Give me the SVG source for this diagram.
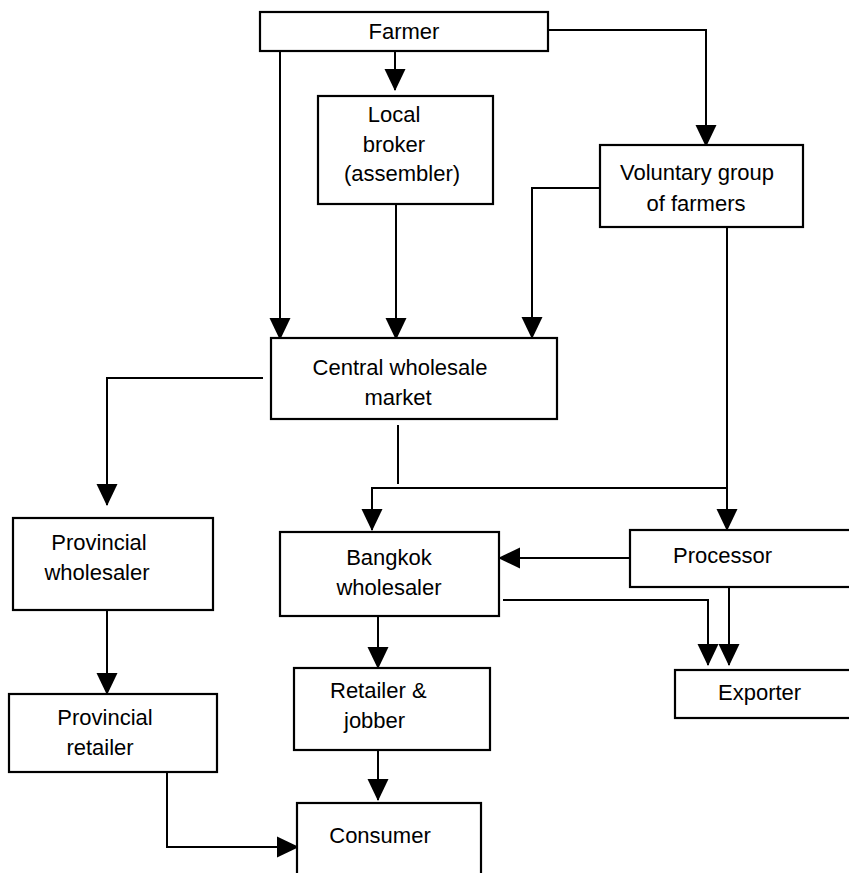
<svg xmlns="http://www.w3.org/2000/svg" width="849" height="873" viewBox="0 0 849 873">
<style>
  .box { fill: #ffffff; stroke: #000000; stroke-width: 2.2; }
  .lbl { font-family: "Liberation Sans", Arial, sans-serif; font-size: 22px; fill: #000000; text-anchor: middle; }
  .lft { text-anchor: start; }
  .con { fill: none; stroke: #000000; stroke-width: 2; }
  .arr { marker-end: url(#ah); }
</style>
<defs>
  <marker id="ah" markerUnits="userSpaceOnUse" markerWidth="22" markerHeight="22" refX="21" refY="10.5" orient="auto" viewBox="0 0 22 21">
    <path d="M0,0 L22,10.5 L0,21 Z" fill="#000000"/>
  </marker>
</defs>
<rect x="0" y="0" width="849" height="873" fill="#ffffff"/>

<g id="connectors">
  <path class="con arr" d="M395,51 L395,90"/>
  <path class="con arr" d="M280,51 L280,339"/>
  <path class="con arr" d="M396,204 L396,339"/>
  <path class="con arr" d="M548,30 L706,30 L706,146"/>
  <path class="con arr" d="M609,188 L532,188 L532,338"/>
  <path class="con arr" d="M727,227 L727,530"/>
  <path class="con arr" d="M263,378 L107,378 L107,505"/>
  <path class="con" d="M398,425 L398,484"/>
  <path class="con arr" d="M727,488 L372,488 L372,530"/>
  <path class="con arr" d="M630,558 L499,558"/>
  <path class="con arr" d="M503,600 L708,600 L708,665"/>
  <path class="con arr" d="M729,587 L729,665"/>
  <path class="con arr" d="M107,610 L107,694"/>
  <path class="con arr" d="M378,616 L378,668"/>
  <path class="con arr" d="M378,750 L378,800"/>
  <path class="con arr" d="M167,772 L167,847 L298,847"/>
</g>

<g id="farmer">
  <rect class="box" x="260" y="12" width="288" height="39"/>
  <text class="lbl" x="404" y="39">Farmer</text>
</g>
<g id="local-broker">
  <rect class="box" x="318" y="96" width="175" height="108"/>
  <text class="lbl" x="394" y="122">Local</text>
  <text class="lbl" x="394" y="152">broker</text>
  <text class="lbl" x="402" y="181">(assembler)</text>
</g>
<g id="voluntary-group">
  <rect class="box" x="600" y="145" width="203" height="82"/>
  <text class="lbl" x="697" y="180">Voluntary group</text>
  <text class="lbl" x="696" y="211">of farmers</text>
</g>
<g id="central-wholesale-market">
  <rect class="box" x="271" y="338" width="286" height="81"/>
  <text class="lbl" x="400" y="375">Central wholesale</text>
  <text class="lbl" x="398" y="405">market</text>
</g>
<g id="provincial-wholesaler">
  <rect class="box" x="13" y="518" width="200" height="92"/>
  <text class="lbl" x="99" y="550">Provincial</text>
  <text class="lbl" x="97" y="580">wholesaler</text>
</g>
<g id="bangkok-wholesaler">
  <rect class="box" x="280" y="532" width="219" height="84"/>
  <text class="lbl" x="389" y="565">Bangkok</text>
  <text class="lbl" x="389" y="595">wholesaler</text>
</g>
<g id="processor">
  <rect class="box" x="630" y="530" width="225" height="57"/>
  <text class="lbl lft" x="673" y="563">Processor</text>
</g>
<g id="provincial-retailer">
  <rect class="box" x="9" y="694" width="208" height="78"/>
  <text class="lbl" x="105" y="725">Provincial</text>
  <text class="lbl" x="100" y="755">retailer</text>
</g>
<g id="retailer-jobber">
  <rect class="box" x="294" y="668" width="196" height="82"/>
  <text class="lbl lft" x="330" y="698">Retailer &amp;</text>
  <text class="lbl lft" x="344" y="728">jobber</text>
</g>
<g id="exporter">
  <rect class="box" x="675" y="670" width="180" height="48"/>
  <text class="lbl lft" x="718" y="700">Exporter</text>
</g>
<g id="consumer">
  <rect class="box" x="297" y="803" width="184" height="80"/>
  <text class="lbl" x="380" y="843">Consumer</text>
</g>
</svg>
